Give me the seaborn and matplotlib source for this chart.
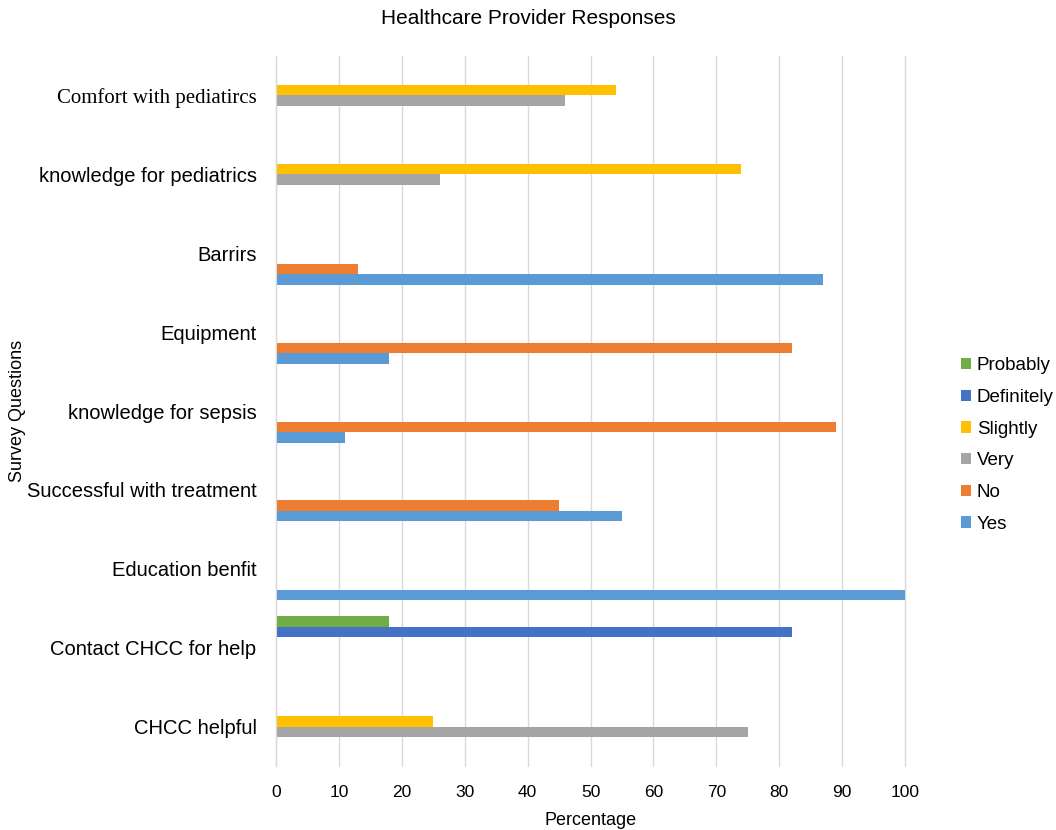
import matplotlib
matplotlib.use("Agg")
import matplotlib.pyplot as plt
import pandas as pd
import seaborn as sns

# categories, top to bottom as shown
questions = ["Comfort with pediatircs", "knowledge for pediatrics", "Barrirs", "Equipment",
             "knowledge for sepsis", "Successful with treatment", "Education benfit",
             "Contact CHCC for help", "CHCC helpful"]

# response series (legend order: top to bottom)
responses = ["Probably", "Definitely", "Slightly", "Very", "No", "Yes"]

yes_vals = [None, None, 87, 18, 11, 55, 100, None, None]
no_vals = [None, None, 13, 82, 89, 45, None, None, None]
very_vals = [46, 26, None, None, None, None, None, None, 75]
slightly_vals = [54, 74, None, None, None, None, None, None, 25]
definitely_vals = [None, None, None, None, None, None, None, 82, None]
probably_vals = [None, None, None, None, None, None, None, 18, None]

colors = {"Yes": "#5B9BD5", "No": "#ED7D31", "Very": "#A5A5A5",
          "Slightly": "#FFC000", "Definitely": "#4472C4", "Probably": "#70AD47"}

series = {"Yes": yes_vals, "No": no_vals, "Very": very_vals, "Slightly": slightly_vals,
          "Definitely": definitely_vals, "Probably": probably_vals}

rows = []
for name, vals in series.items():
    for q, v in zip(questions, vals):
        if v is not None:
            rows.append({"question": q, "response": name, "value": v})
df = pd.DataFrame(rows)

sns.set_style("white")
plt.rcParams["font.family"] = ["Liberation Sans", "DejaVu Sans"]
plt.rcParams["text.color"] = "black"
plt.rcParams["xtick.color"] = "black"
plt.rcParams["ytick.color"] = "black"

fig = plt.figure(figsize=(10.56, 8.3), dpi=100)
ax = fig.add_axes([276 / 1056, 1 - 766 / 830, (905 - 276) / 1056, (766 - 56) / 830])

sns.barplot(data=df, x="value", y="question", hue="response", order=questions,
            hue_order=responses, palette=colors, orient="h", width=0.8,
            saturation=1, errorbar=None, ax=ax, linewidth=0)

ax.set_xlim(0, 100)
ax.set_xticks(range(0, 101, 10))
ax.xaxis.grid(True, color="#d9d9d9", linewidth=1)
for line in ax.get_xgridlines():
    line.set_clip_on(False)
ax.set_axisbelow(True)
for side in ["top", "right", "bottom"]:
    ax.spines[side].set_visible(False)
ax.spines["left"].set_color("#d9d9d9")
ax.tick_params(axis="both", length=0)
ax.tick_params(axis="x", labelsize=12.5, pad=14)
ax.tick_params(axis="y", labelsize=14.5, pad=14)
ax.get_yticklabels()[0].set_fontfamily(["Liberation Serif", "DejaVu Serif"])
ax.get_yticklabels()[0].set_fontsize(15)

ax.set_xlabel("Percentage", fontsize=13, labelpad=8, color="black")
ax.set_ylabel("")
fig.text(18 / 1056, 1 - 411 / 830, "Survey Questions", rotation=90, fontsize=13,
         ha="center", va="center")

fig.text(0.5, 1 - 18 / 830, "Healthcare Provider Responses", fontsize=15,
         ha="center", va="center")

handles, labels = ax.get_legend_handles_labels()
ax.get_legend().remove()
fig.legend(handles, labels, loc="center left", bbox_to_anchor=(944 / 1056, 1 - 445 / 830),
           frameon=False, fontsize=13.5, handlelength=0.55, handleheight=0.55,
           handletextpad=0.3, labelspacing=0.78)

fig.savefig("out.png", dpi=100)
